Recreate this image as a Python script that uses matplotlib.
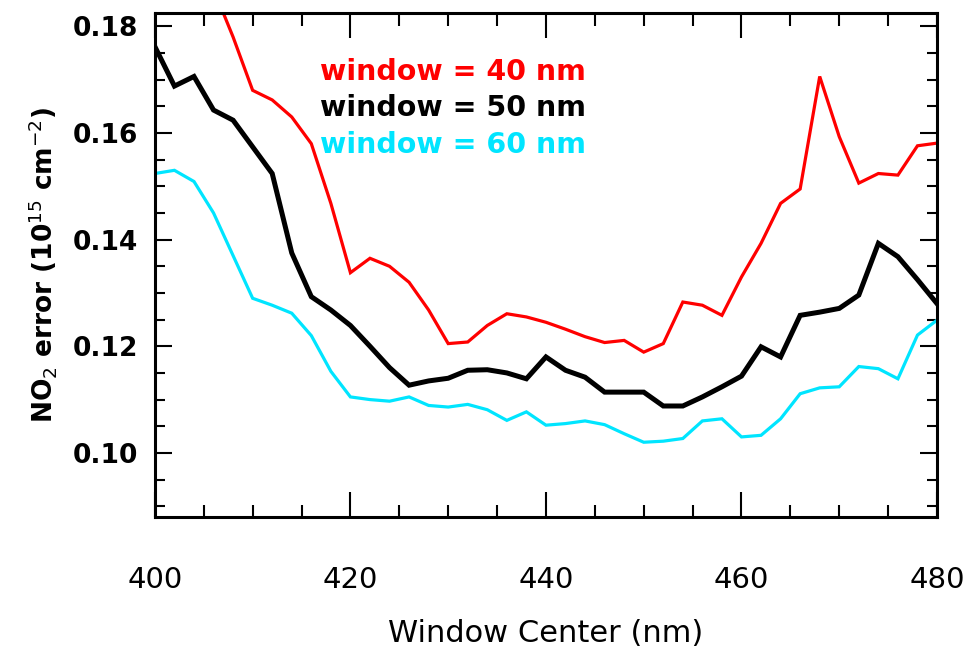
import numpy as np
import matplotlib
matplotlib.use('Agg')
import matplotlib.pyplot as plt
from matplotlib.ticker import MultipleLocator

# window centers (nm), every 2 nm
centers = np.arange(400, 481, 2)

# NO2 error (1e15 cm^-2)
err_40 = [0.205, 0.198, 0.192, 0.187, 0.178, 0.168, 0.1662, 0.1630, 0.1580, 0.1468,
          0.1338, 0.1365, 0.1350, 0.1320, 0.1268, 0.1205, 0.1208, 0.1239, 0.1261, 0.1255,
          0.1245, 0.1232, 0.1218, 0.1207, 0.1211, 0.1189, 0.1205, 0.1283, 0.1277, 0.1258,
          0.1330, 0.1393, 0.1468, 0.1495, 0.1706, 0.1593, 0.1506, 0.1524, 0.1521, 0.1576,
          0.1581]
err_50 = [0.1762, 0.1688, 0.1706, 0.1643, 0.1624, 0.1574, 0.1524, 0.1375, 0.1293, 0.1268,
          0.1239, 0.1200, 0.1160, 0.1127, 0.1135, 0.1140, 0.1155, 0.1156, 0.1150, 0.1139,
          0.1180, 0.1155, 0.1142, 0.1114, 0.1114, 0.1114, 0.1088, 0.1088, 0.1105, 0.1124,
          0.1144, 0.1199, 0.1180, 0.1258, 0.1264, 0.1271, 0.1296, 0.1393, 0.1368, 0.1325,
          0.1280]
err_60 = [0.1524, 0.1530, 0.1509, 0.1450, 0.1370, 0.1290, 0.1277, 0.1262, 0.1220, 0.1153,
          0.1105, 0.1100, 0.1097, 0.1105, 0.1089, 0.1086, 0.1091, 0.1081, 0.1061, 0.1077,
          0.1052, 0.1055, 0.1060, 0.1053, 0.1036, 0.1020, 0.1022, 0.1027, 0.1060, 0.1064,
          0.1030, 0.1033, 0.1064, 0.1111, 0.1122, 0.1124, 0.1162, 0.1158, 0.1139, 0.1221,
          0.1249]

labels = ['window = 40 nm', 'window = 50 nm', 'window = 60 nm']
colors = ['#ff0000', '#000000', '#00e5ff']
widths = [2.3, 3.6, 2.3]

fig = plt.figure(figsize=(9.68, 6.51), dpi=100)
ax = fig.add_axes([0.160, 0.206, 0.808, 0.774])

series = [err_40, err_50, err_60]
for vals, c, lw in zip(series, colors, widths):
	ax.plot(centers, vals, color=c, lw=lw, solid_joinstyle='miter')

ax.set_xlim(400, 480)
ax.set_ylim(0.088, 0.1825)

ax.xaxis.set_major_locator(MultipleLocator(20))
ax.xaxis.set_minor_locator(MultipleLocator(5))
ax.yaxis.set_major_locator(MultipleLocator(0.02))
ax.yaxis.set_minor_locator(MultipleLocator(0.005))
ax.yaxis.set_major_formatter(matplotlib.ticker.FormatStrFormatter('%.2f'))

ax.tick_params(axis='x', which='major', direction='in', length=18, width=1.5, top=True, pad=35, labelsize=21)
ax.tick_params(axis='x', which='minor', direction='in', length=9, width=1.5, top=True)
ax.tick_params(axis='y', which='major', direction='in', length=12, width=1.5, right=True, pad=12, labelsize=19)
ax.tick_params(axis='y', which='minor', direction='in', length=7, width=1.5, right=True)
for lab in ax.get_yticklabels():
	lab.set_fontweight('bold')

for sp in ax.spines.values():
	sp.set_linewidth(2.2)

ax.set_xlabel('Window Center (nm)', fontsize=22, labelpad=18)
ax.set_ylabel(r'NO$_2$ error (10$^{15}$ cm$^{-2}$)', fontsize=19, fontweight='bold', labelpad=10)

for i, (txt, c) in enumerate(zip(labels, colors)):
	ax.text(0.211, 0.883 - i * 0.072, txt, color=c, fontsize=20.5, fontweight='bold',
			transform=ax.transAxes, va='center', ha='left')

plt.savefig('out.png', dpi=100)
